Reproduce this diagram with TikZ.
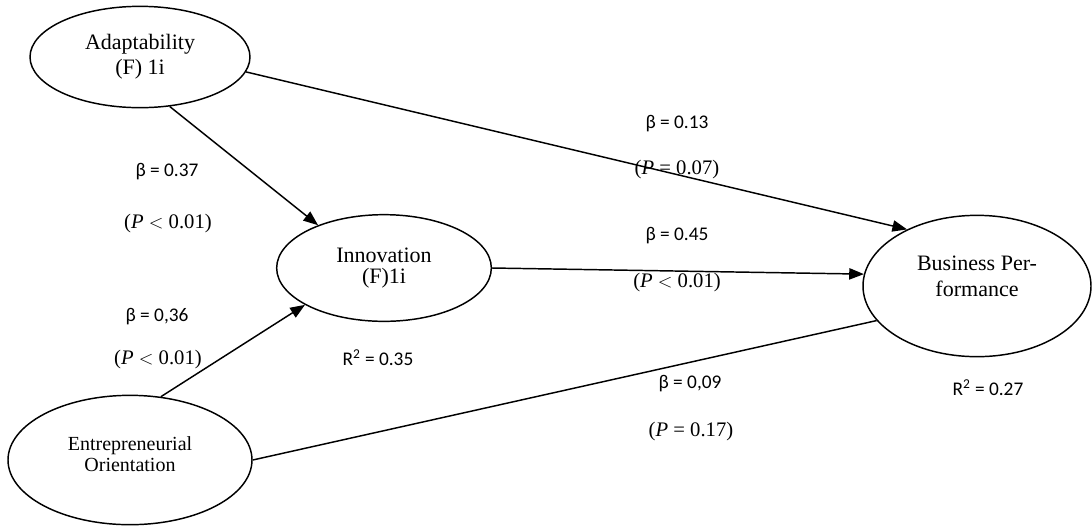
\documentclass[tikz,border=0pt]{standalone}
\usepackage{fontspec}
\setmainfont{Liberation Serif}
\newfontfamily\calib{Carlito}
\usepackage{amsmath}
\usetikzlibrary{shapes, arrows.meta, positioning}

\begin{document}
\begin{tikzpicture}[
    x=0.75pt, y=-0.75pt,
    latent/.style={draw, ellipse, line width=1.1pt, inner sep=0pt,
          align=center, font=\fontsize{16.5}{19}\selectfont},
    coef/.style={font=\calib\fontsize{14.5}{17}\selectfont},
    pval/.style={font=\fontsize{15.5}{18}\selectfont},
    arr/.style={-{Triangle[length=11pt, width=8.5pt]}, line width=1.1pt}
  ]
    \useasboundingbox (0,0) rectangle (1092,526);

    \node[latent, minimum width=165pt, minimum height=76pt]
          (adapt) at (140,57) {Adaptability\\(F) 1i};
    \node[latent, minimum width=161pt, minimum height=80pt,
          font=\fontsize{16.5}{16}\selectfont]
          (innov) at (384,268) {Innovation\\(F)1i};
    \node[latent, minimum width=171pt, minimum height=106pt,
          font=\fontsize{16.5}{19.5}\selectfont, text depth=15pt]
          (bp) at (977,286) {Business Per-\\formance};
    \node[latent, minimum width=183pt, minimum height=97pt,
          font=\fontsize{15}{15.5}\selectfont, text depth=9pt]
          (eo) at (130,460) {Entrepreneurial\\Orientation};

    \node[coef] (b037) at (167,172) {β = 0.37};
    \node[pval] (p037) at (168,224) {(\textit{P}~$<$~0.01)};
    \node[coef] (b036) at (157,317) {β = 0,36};
    \node[pval] (p036) at (158,360) {(\textit{P}~$<$~0.01)};
    \node[coef] (r035) at (378,358) {R\textsuperscript{2} = 0.35};
    \node[coef] (b013) at (677,124) {β = 0.13};
    \node[pval] (p013) at (677,170) {(\textit{P}~=~0.07)};
    \node[coef] (b045) at (677,236) {β = 0.45};
    \node[pval] (p045) at (677,283) {(\textit{P}~$<$~0.01)};
    \node[coef] (b009) at (690,384) {β = 0,09};
    \node[pval] (p009) at (691,432) {(\textit{P}~=~0.17)};
    \node[coef] (r027) at (988,388) {R\textsuperscript{2} = 0.27};

    \draw[arr] (adapt.-8) -- (bp.141);
    \draw[arr] (adapt.301) -- (innov.147);
    \draw[arr] (innov.east) -- (bp.174);
    \draw[arr] (eo.64) -- (innov.205);
    \draw[line width=1.1pt] (eo.east) -- (bp.199);
  \end{tikzpicture}
\end{document}
